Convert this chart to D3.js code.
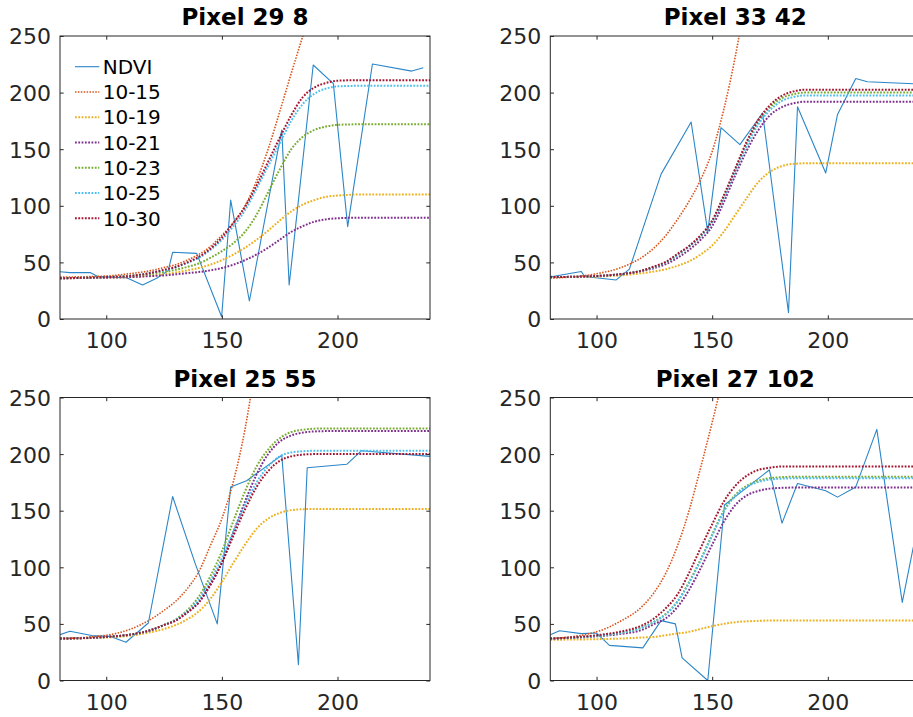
<!DOCTYPE html>
<html><head><meta charset="utf-8">
<script src="https://cdn.jsdelivr.net/npm/d3@7"></script>
<style>
body{margin:0;background:#fff;}
svg{display:block;font-family:"DejaVu Sans",sans-serif;}
</style>
</head><body>
<svg id="chart" width="913" height="717"></svg>
<script>
// ---------- data ----------
const panelTitles = ["Pixel 29 8", "Pixel 33 42", "Pixel 25 55", "Pixel 27 102"];
const seriesNames = ["NDVI", "10-15", "10-19", "10-21", "10-23", "10-25", "10-30"];
const seriesColors = ["#2a86c8", "#D95319", "#EDB120", "#7E2F8E", "#77AC30", "#4DBEEE", "#A2142F"];
const xTicks = [100, 150, 200];
const yTicks = [0, 50, 100, 150, 200, 250];
const xDomain = [80, 240];
const yDomain = [0, 250];

// NDVI observations per panel
const ndviDaysP1 = [80,84.3,93,96.6,108.8,115.7,121.8,126.8,128.7,139.1,149.9,153.8,161.9,175.9,179.1,189.5,198.2,204.4,215.1,232.1,237.1];
const ndviValsP1 = [41.8,41,41,37.4,36.5,30,36,42.7,58.9,58,2,105,15.9,167,30,224.4,208,81.6,225.3,219,222];
const ndviDaysP2 = [80,81,93.4,94.8,108.5,114.2,127.9,140.9,148.1,153.8,162,171.8,183,186.9,199.1,204.2,212.1,217.1,240];
const ndviValsP2 = [38,37.5,42,37.5,34.5,44,128,174,77,169,154,182,5.6,187.5,129,180.7,212.5,209.6,207.5];
const ndviDaysP3 = [80,84.3,93.7,101.6,108.5,118.2,128.7,138.4,148,153.8,160.7,175.9,183.1,186.9,204,210.4,240];
const ndviValsP3 = [40.5,43.5,39.7,39,33.8,50.8,162.5,103.7,50,171,176.5,199,14,188,191,203,198];
const ndviDaysP4 = [80,84,93.4,99.9,105.6,120,127.9,134.1,137,148.1,155.3,174.7,180.2,186.9,199.1,204.2,212.1,221.2,232.2,237];
const ndviValsP4 = [40.5,44,41.4,42,31,28.8,52.9,50,20,0,155,186,139,174,167.7,162,171,221.8,69,118];

// fitted curves, sampled on a common day grid (order: 10-15, 10-19, 10-21, 10-23, 10-25, 10-30)
const fitDays = [80,100,110,120,125,130,135,140,145,150,155,160,165,170,175,180,185,190,195,200,210,220,240];
const fitsP1 = [
  [37,38,40,43,45.5,48,52,57,64,74,85,100,122,150,183,217,250,283,null,null,null,null,null],
  [36,36.5,37,38.5,39.5,41,43,45,48,52,57,63,70,78,87,95,101,105,108,109,110,110,110],
  [36,36.5,37,38,38.5,39.5,40.5,41.5,43,45,48,52,57,63,70,77,82,86,88,89,89.5,89.5,89.5],
  [36,37,38,40,41.5,43.5,46,49,54,60,67,77,92,112,132,150,161,167,170,171.5,172,172,172],
  [36,37,38,41,43,45.5,49.5,54,61,70,82,96,115,135,155,175,190,199,203.5,205.5,206,206,206],
  [36,37,38,41,43.5,46,50,55,62,72,85,99,118,139,160,180,196,204.5,208.5,210.5,211,211,211]
];
const fitsP2 = [
  [36,40,45,55,63,74,88,104,123,148,185,232,290,null,null,null,null,null,null,null,null,null,null],
  [37,37.5,38.5,40.5,42,44,47,51,57,65,77,92,107,121,130,135,137,137.5,137.5,137.5,137.5,137.5,137.5],
  [37,38,39.5,42.5,45,48.5,54,61,70,82,103,127,149,167,180,187,190.5,192,192,192,192,192,192],
  [37,38,39.5,43,46,50,56.5,64,73,86,108,132,155,174,187,195,198.5,200,200,200,200,200,200],
  [37,38,39.5,43,46,50,56.5,64,73,86,107,131,153,172,184.5,192.5,196,197.5,197.5,197.5,197.5,197.5,197.5],
  [37,38,39.5,43,46.5,50.5,57.5,64.5,74,87,109,133,157,176,189,197,201,202.5,202.5,202.5,202.5,202.5,202.5]
];
const fitsP3 = [
  [37,40,45,55,62,70,81,96,119,143,176,222,285,null,null,null,null,null,null,null,null,null,null],
  [37,38,39.5,43,45.5,49,54,61,72,87,104,120,134,143,148,150.5,151.3,151.6,151.6,151.6,151.6,151.6,151.6],
  [37,38.5,40.5,45,49,53,60,69,84,104,131,158,182,200,211,216.5,219,220,220.3,220.3,220.3,220.3,220.3],
  [37,38.5,40.5,45,49,54,62,74,92,114,141,167,189,204,214,219.5,221.5,222.5,222.7,222.7,222.7,222.7,222.7],
  [37,38.5,40.5,45,49,53.5,61,71,88,108,132,155,175,189,198,201.5,202.5,203,203,203,203,203,203],
  [37,38.5,40.5,45,49,53,60,69,85,104,128,151,171,185,194,198,199.5,200,200,200,200,200,200]
];
const fitsP4 = [
  [37,43,52,66,78,95,119,150,188,228,270,null,null,null,null,null,null,null,null,null,null,null,null],
  [36,36.5,37,38,38.5,40,41.5,43,45.5,48,50,51.5,52.3,52.7,53,53,53,53,53,53,53,53,53],
  [37,39,41,45,50,55,65,80,99,120,140,155,163.5,167.5,169.5,170.2,170.4,170.4,170.4,170.4,170.4,170.4,170.4],
  [37,39.5,42,47,52,59,70,87,107,129,150,164,172,176.5,178.8,179.6,180,180,180,180,180,180,180],
  [37,39.5,42,47,52,58.5,69.5,86,106,128,149,163,171,175.5,177.5,178.3,178.6,178.6,178.6,178.6,178.6,178.6,178.6],
  [37,40,43,49,55,64,76,95,117,138,158,172,181,186,188,189,189,189,189,189,189,189,189]
];

const ndviDays = [ndviDaysP1, ndviDaysP2, ndviDaysP3, ndviDaysP4];
const ndviVals = [ndviValsP1, ndviValsP2, ndviValsP3, ndviValsP4];
const fits = [fitsP1, fitsP2, fitsP3, fitsP4];

// ---------- layout ----------
const W = 370, H = 283;
const origins = [[60, 36], [550.3, 36], [60, 397.5], [550.3, 397.5]];
const axisColor = "#262626";
const tickLen = 3.7;
const orangeW = 1.6, orangeDash = "1.5,1.4";
const dotW = 2, dotDash = "1.8,1.5";

const svg = d3.select("#chart");
svg.append("rect").attr("width", 913).attr("height", 717).attr("fill", "#fff");

panelTitles.forEach((title, i) => {
  const [L, T] = origins[i];
  const g = svg.append("g").attr("transform", `translate(${L},${T})`);
  const x = d3.scaleLinear().domain(xDomain).range([0, W]);
  const y = d3.scaleLinear().domain(yDomain).range([H, 0]);

  const clipId = "clip" + i;
  g.append("clipPath").attr("id", clipId).append("rect")
    .attr("x", 0).attr("y", 0).attr("width", W).attr("height", H);

  const plot = g.append("g").attr("clip-path", `url(#${clipId})`);

  // NDVI line
  const ndviPts = ndviDays[i].map((d, k) => [d, ndviVals[i][k]]);
  plot.append("path")
    .attr("d", d3.line().x(d => x(d[0])).y(d => y(d[1]))(ndviPts))
    .attr("fill", "none").attr("stroke", seriesColors[0])
    .attr("stroke-width", 1.1).attr("stroke-linejoin", "round");

  // fitted curves
  const fitLine = d3.line().defined(d => d[1] != null)
    .x(d => x(d[0])).y(d => y(d[1])).curve(d3.curveMonotoneX);
  fits[i].forEach((vals, s) => {
    const pts = fitDays.map((d, k) => [d, vals[k]]);
    const thin = s === 0;
    plot.append("path")
      .attr("d", fitLine(pts))
      .attr("fill", "none").attr("stroke", seriesColors[s + 1])
      .attr("stroke-width", thin ? orangeW : dotW)
      .attr("stroke-dasharray", thin ? orangeDash : dotDash);
  });

  // axes
  const fs = "22px";
  const bottom = g.append("g").attr("transform", `translate(0,${H})`)
    .call(d3.axisBottom(x).tickValues(xTicks).tickSizeInner(-tickLen).tickSizeOuter(0).tickPadding(0));
  bottom.selectAll("text").attr("y", 29).attr("dy", 0).style("font-size", fs).attr("fill", axisColor)
    .style("font-family", "DejaVu Sans");
  const left = g.append("g")
    .call(d3.axisLeft(y).tickValues(yTicks).tickSizeInner(-tickLen).tickSizeOuter(0).tickPadding(9));
  left.selectAll("text").attr("dy", "0.36em").style("font-size", fs).attr("fill", axisColor)
    .style("font-family", "DejaVu Sans");
  g.append("g")
    .call(d3.axisTop(x).tickValues(xTicks).tickSizeInner(-tickLen).tickSizeOuter(0).tickFormat(""));
  g.append("g").attr("transform", `translate(${W},0)`)
    .call(d3.axisRight(y).tickValues(yTicks).tickSizeInner(-tickLen).tickSizeOuter(0).tickFormat(""));
  g.selectAll(".domain").remove();
  g.selectAll(".tick line").attr("stroke", axisColor);
  g.append("rect").attr("x", 0).attr("y", 0).attr("width", W).attr("height", H)
    .attr("fill", "none").attr("stroke", axisColor).attr("stroke-width", 1);

  // title
  g.append("text").attr("x", W / 2).attr("y", -11)
    .attr("text-anchor", "middle").style("font-size", "23px").style("font-weight", "bold")
    .attr("fill", "#000").text(title);

  // legend (first panel only)
  if (i === 0) {
    const lg = g.append("g");
    seriesNames.forEach((name, s) => {
      const cy = 30.7 + s * 25.27;
      lg.append("line").attr("x1", 15).attr("x2", 39.3).attr("y1", cy).attr("y2", cy)
        .attr("stroke", seriesColors[s])
        .attr("stroke-width", s === 0 ? 1.1 : (s === 1 ? orangeW : dotW))
        .attr("stroke-dasharray", s === 0 ? null : (s === 1 ? orangeDash : dotDash));
      lg.append("text").attr("x", 42.7).attr("y", cy).attr("dy", "0.36em")
        .style("font-size", "20px").attr("fill", "#000").text(name);
    });
  }
});
</script>
</body></html>
